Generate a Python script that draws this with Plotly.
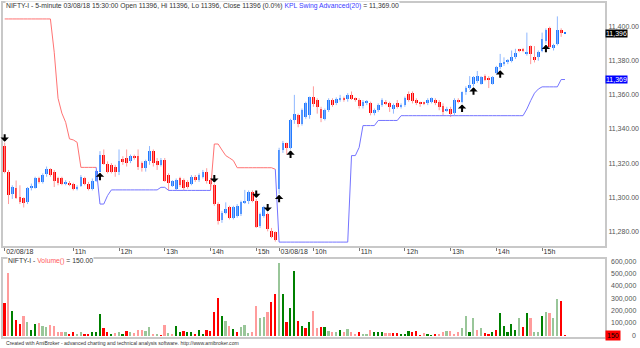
import plotly.graph_objects as go

# ---------------- data ----------------
opens = [11330, 11315, 11302, 11305.6, 11300, 11299.5, 11297, 11305.8, 11305.6, 11311,
         11309, 11313.8, 11316.5, 11315, 11311, 11311, 11308, 11308.5, 11307.8, 11305,
         11306.5, 11311.4, 11308, 11305, 11309.8, 11315, 11325, 11319.6, 11319, 11318,
         11315, 11322.5, 11322.8, 11321.5, 11324, 11324, 11320, 11317, 11321, 11327,
         11321.5, 11319, 11322, 11313.2, 11306.8, 11305, 11311, 11310, 11309, 11307.7,
         11312, 11310, 11312, 11315, 11310, 11307, 11296, 11286.5, 11291, 11294,
         11288, 11289, 11290, 11297, 11297.7, 11303, 11298, 11283.4, 11288.8, 11290,
         11280.5, 11279.6,
         11305, 11327.5, 11331.5, 11329, 11345, 11348, 11343, 11347, 11348, 11358.6,
         11357, 11352, 11346, 11351, 11357, 11355, 11357.3, 11358.4, 11357.3, 11360,
         11357.8, 11357, 11353.7, 11355, 11355, 11349.3, 11351, 11354, 11356, 11355.3,
         11352, 11355, 11353, 11354, 11360.8, 11361, 11357, 11355.5, 11355.5, 11355,
         11356, 11357, 11356, 11353.6, 11351, 11352, 11349.5, 11357, 11356, 11361.6,
         11364, 11366.5, 11368, 11366.5, 11371, 11370, 11366.5, 11373, 11376.4, 11378,
         11379.5, 11380, 11382, 11386.6, 11386.8, 11384, 11388.7, 11382, 11382, 11386,
         11391.5, 11399, 11388, 11390, 11398, 11396]
highs = [11332, 11316, 11307, 11309.8, 11307, 11300, 11306, 11308, 11312, 11312,
         11314, 11318, 11317, 11316, 11312, 11312, 11310, 11309.5, 11308.5, 11307,
         11313, 11312, 11309, 11311, 11316, 11327, 11328, 11321, 11320, 11319,
         11328, 11324, 11328, 11325, 11325, 11328, 11321, 11322, 11330, 11328,
         11323, 11323, 11323, 11314, 11310, 11311, 11312, 11311, 11310, 11313,
         11313, 11314, 11316, 11317, 11311, 11308, 11297, 11292, 11297, 11295,
         11295, 11296, 11298, 11304.3, 11304, 11304, 11299, 11291, 11295, 11291,
         11282, 11280,
         11329, 11333, 11332, 11346, 11360, 11349, 11352, 11356, 11359, 11365,
         11358, 11353, 11352, 11358, 11358, 11358.5, 11360, 11359, 11361, 11362,
         11358.5, 11358, 11357, 11357, 11356, 11352, 11355, 11358, 11357, 11356,
         11355, 11357, 11355, 11359, 11362, 11362, 11358, 11356, 11356, 11358,
         11358.5, 11358, 11357, 11355, 11353, 11353, 11358, 11358, 11362, 11365,
         11371, 11371, 11374, 11371, 11372, 11371, 11371, 11377, 11384, 11382,
         11381, 11386, 11387, 11387, 11387.5, 11396.5, 11389, 11388.6, 11386, 11396.5,
         11399, 11400, 11390, 11406, 11399, 11396]
lows = [11314, 11296, 11299, 11299, 11296, 11294, 11296, 11304, 11305, 11308,
        11308, 11312, 11312, 11306, 11307, 11307, 11307, 11306.5, 11304, 11304,
        11306, 11307, 11304, 11304, 11309, 11315, 11319, 11314, 11314, 11312,
        11313, 11319, 11318, 11320, 11322, 11316, 11315, 11315, 11319, 11318,
        11316, 11318, 11309, 11304, 11306, 11304, 11306, 11304, 11305, 11307,
        11309, 11309, 11311, 11308, 11306, 11295, 11284, 11285, 11290, 11287,
        11287, 11288, 11289, 11296, 11296, 11297, 11282, 11282, 11288, 11280,
        11276, 11274,
        11302, 11326, 11325, 11328, 11343, 11341, 11342, 11346, 11346, 11353,
        11349, 11344, 11345, 11350, 11353, 11354, 11356, 11356, 11356, 11357,
        11356, 11352, 11352, 11354, 11348, 11348, 11350, 11353, 11354, 11350,
        11349, 11352, 11352, 11353, 11356, 11355, 11354, 11353, 11354, 11354,
        11355, 11354, 11351, 11348, 11350, 11347, 11348, 11355, 11355, 11360,
        11363, 11365, 11367, 11366, 11368, 11364, 11366, 11372, 11375, 11377,
        11378, 11379, 11381, 11385, 11385, 11383, 11378, 11379, 11380, 11385,
        11390, 11387, 11386, 11389, 11394, 11396]
closes = [11315, 11301.6, 11306, 11299.8, 11297, 11296.5, 11305.6, 11306.5, 11311.4, 11309,
          11313, 11316.7, 11313, 11309.6, 11308.5, 11308, 11309, 11307.5, 11305, 11306,
          11311.8, 11308, 11305, 11309.8, 11315.2, 11325, 11319.6, 11315, 11315, 11314.5,
          11321.5, 11320.6, 11320, 11324, 11323, 11318, 11317, 11321, 11327, 11320,
          11319, 11322, 11309.8, 11308.2, 11309.7, 11310, 11307, 11305.5, 11306, 11312,
          11310, 11313, 11315, 11309.5, 11307.5, 11296, 11286, 11291, 11293, 11288,
          11294, 11295, 11297, 11297.8, 11302.9, 11298, 11282.7, 11290.3, 11294, 11281.5,
          11276.5, 11274.7,
          11327.5, 11332, 11329, 11345, 11349, 11343, 11351, 11355, 11358.5, 11354.7,
          11352.6, 11346.3, 11351, 11357, 11354, 11357.7, 11358.4, 11357.3, 11360, 11357.8,
          11357, 11353.7, 11356, 11356.5, 11349.3, 11351, 11354, 11357, 11354.5, 11352.6,
          11354, 11353, 11354, 11358.3, 11357, 11356.5, 11355, 11355, 11355, 11357,
          11358, 11355, 11353, 11349.8, 11352, 11349, 11357, 11356, 11361.5, 11364,
          11366, 11370.6, 11371, 11370.6, 11369, 11368.5, 11370.5, 11376.4, 11378.4, 11379.5,
          11380, 11382, 11384.8, 11386, 11386.2, 11385.3, 11384, 11381, 11385, 11392.6,
          11398, 11388, 11389, 11398, 11396, 11396]

# volume (shares) and bar tone: R red, r light red, G green, g light green
volumes = [263000, 508000, 204000, 131000, 96000, 164000, 115000, 50000, 96000, 104000,
           82000, 69000, 88000, 77000, 29000, 29000, 29000, 13000, 34000, 15000,
           29000, 10000, 18000, 34000, 34000, 177000, 61000, 34000, 15000, 23000,
           29000, 18000, 42000, 34000, 23000, 50000, 50000, 42000, 69000, 15000,
           10000, 3000, 91000, 23000, 18000, 82000, 34000, 42000, 29000, 34000,
           18000, 45000, 15000, 50000, 42000, 190000, 306000, 164000, 118000, 77000,
           56000, 34000, 69000, 88000, 23000, 34000, 245000, 142000, 150000, 196000,
           277000, 339000,
           589000, 339000, 115000, 223000, 527000, 123000, 77000, 61000, 115000, 204000,
           61000, 74000, 69000, 42000, 34000, 29000, 50000, 34000, 56000, 29000,
           15000, 34000, 15000, 18000, 50000, 34000, 34000, 34000, 23000, 23000,
           23000, 23000, 15000, 13000, 42000, 29000, 40000, 4000, 23000, 7000,
           4000, 7000, 15000, 29000, 42000, 42000, 15000, 34000, 61000, 164000,
           34000, 148000, 50000, 61000, 23000, 18000, 29000, 50000, 185000, 82000,
           34000, 96000, 45000, 142000, 69000, 185000, 142000, 34000, 34000, 164000,
           196000, 185000, 142000, 299000, 285000, 150]
vol_tone = ("RrGRRrgGGr ggrrrrgRRg gRRGGGRRGr gGRgrrrggr gRrgrGGRGG RGGRRRRGgr GRgggrrggr RR"
            "gGRGGRGRGr rRGgrgGrgr rRggrGGGrr RRGGGRRRrG GRrrgrrrgg GgrgRRGRGG GGGgRGrggG grggRR"
            ).replace(" ", "")

# KPL Swing Advanced(20): stop level and mode per bar (S = sell/red, B = buy/blue)
swing = ([11404.5] * 13 + [11385, 11358, 11349.3, 11343.9, 11334.2, 11333.6, 11332.2]
         + [11317.5] * 5 + [11296, 11296, 11301] + [11304.3] * 13 + [11305.8] * 2
         + [11304] * 12 + [11331.2] * 2 + [11327.7, 11324.4, 11323, 11321.5]
         + [11317.3] * 10 + [11316.4] + [11273.7] * 19 + [11324.4] * 2 + [11329.2]
         + [11342] * 4 + [11345] * 6 + [11347.8] * 33
         + [11351.7, 11356.6, 11361, 11363.4] + [11364.7] * 5 + [11369] * 2)
swing_mode = "S" * 25 + "B" * 30 + "S" * 17 + "B" * 76

buy_bars = [25, 72, 75, 120, 123, 130, 142]
sell_bars = [0, 55, 66, 69]

tick_bars = [0, 18, 30, 42, 54, 66, 72, 81, 93, 105, 117, 129, 141]
tick_labels = ["02/08/18", "11h", "12h", "13h", "14h", "15h",
               "03/08/18", "10h", "11h", "12h", "13h", "14h", "15h"]
price_ticks = [11280, 11300, 11320, 11340, 11360, 11380, 11400]
vol_ticks = [0, 100000, 200000, 300000, 400000, 500000, 600000]

# ---------------- styling ----------------
FONT = "Liberation Sans, Arial, sans-serif"
UP_BODY, DN_BODY = "#1e78ff", "#ff0000"
UP_WICK, DN_WICK = "#8fb8ff", "#ff9a9a"
TONES = {"R": "#ff0000", "r": "#ff9c9c", "G": "#008000", "g": "#99c699"}
FRAME = "#c8c8c8"
TXT = "#333333"
AX_TXT = "#555555"

n = len(closes)
idx = list(range(n))
up = [c >= o for o, c in zip(opens, closes)]

fig = go.Figure()

# wicks
for flag, col in ((True, UP_WICK), (False, DN_WICK)):
    xs, ys = [], []
    for i in idx:
        if up[i] == flag:
            xs += [i, i, None]
            ys += [lows[i], highs[i], None]
    fig.add_trace(go.Scatter(x=xs, y=ys, mode="lines", line=dict(color=col, width=1),
                             hoverinfo="skip", showlegend=False, xaxis="x", yaxis="y"))

# bodies
base = [min(o, c) for o, c in zip(opens, closes)]
height = [max(abs(c - o), 0.6) for o, c in zip(opens, closes)]
fig.add_trace(go.Bar(x=idx, y=height, base=base, width=0.72,
                     marker=dict(color=[UP_BODY if u else DN_BODY for u in up], line=dict(width=0)),
                     showlegend=False, xaxis="x", yaxis="y"))

# swing line
for mode_char, col in (("S", "#ff7373"), ("B", "#7474ff")):
    xs, ys = [], []
    for i in range(1, n):
        if swing_mode[i] == mode_char:
            xs += [i - 1, i, None]
            ys += [swing[i - 1], swing[i], None]
    fig.add_trace(go.Scatter(x=xs, y=ys, mode="lines", line=dict(color=col, width=1),
                             hoverinfo="skip", showlegend=False, xaxis="x", yaxis="y"))

# volume
fig.add_trace(go.Bar(x=idx, y=volumes, width=0.45,
                     marker=dict(color=[TONES[t] for t in vol_tone], line=dict(width=0)),
                     showlegend=False, xaxis="x2", yaxis="y2"))

annotations = []
for b in buy_bars:
    annotations.append(dict(x=b, y=lows[b], xref="x", yref="y", text="", showarrow=True,
                            ax=0, ay=10, arrowhead=1, arrowsize=0.7, arrowwidth=2,
                            arrowcolor="black", standoff=1))
for b in sell_bars:
    annotations.append(dict(x=b, y=highs[b], xref="x", yref="y", text="", showarrow=True,
                            ax=0, ay=-10, arrowhead=1, arrowsize=0.7, arrowwidth=2,
                            arrowcolor="black", standoff=1))

title_txt = ("NIFTY-I - 5-minute 03/08/18 15:30:00 Open %d, Hi %d, Lo %d, Close %d (0.0%%) "
             "<span style='color:#3c3cff'>KPL Swing Advanced(20)</span> = %s"
             % (opens[-1], highs[-1], lows[-1], closes[-1], f"{swing[-1]:,.2f}"))
annotations.append(dict(x=0, y=1, xref="paper", yref="paper", xanchor="left", yanchor="middle",
                        xshift=2, yshift=-3, text=title_txt, showarrow=False, bgcolor="white",
                        borderpad=0, font=dict(family=FONT, size=6.8, color=TXT)))
annotations.append(dict(x=0, y=0.235, xref="paper", yref="paper", xanchor="left", yanchor="middle",
                        xshift=4, yshift=-2,
                        text="NIFTY-I - <span style='color:#ff5a5a'>Volume()</span> = %.2f" % volumes[-1],
                        showarrow=False, bgcolor="white", borderpad=0,
                        font=dict(family=FONT, size=6.8, color=TXT)))
annotations.append(dict(x=0, y=0, xref="paper", yref="paper", xanchor="left", yanchor="middle",
                        xshift=1, yshift=-6,
                        text="Created with AmiBroker - advanced charting and technical analysis software. http://www.amibroker.com",
                        showarrow=False, font=dict(family=FONT, size=5.1, color=TXT)))
# volume axis labels, right aligned like the reference
for v in vol_ticks:
    annotations.append(dict(x=1, y=v, xref="paper", yref="y2", xanchor="right", yanchor="middle",
                            xshift=33, text=f"{v:,}", showarrow=False,
                            font=dict(family=FONT, size=7, color=AX_TXT)))
# value labels on the right
annotations.append(dict(x=1, y=closes[-1], xref="paper", yref="y", xanchor="left", yanchor="middle",
                        text=f"{closes[-1]:,.0f}", showarrow=False, bgcolor="black", borderpad=0,
                        font=dict(family=FONT, size=7, color="white")))
annotations.append(dict(x=1, y=swing[-1], xref="paper", yref="y", xanchor="left", yanchor="middle",
                        text=f"{swing[-1]:,.0f}", showarrow=False, bgcolor="#0000ff", borderpad=0,
                        font=dict(family=FONT, size=7, color="white")))
annotations.append(dict(x=1, y=volumes[-1], xref="paper", yref="y2", xanchor="left", yanchor="middle",
                        text=f"{volumes[-1]}", showarrow=False, bgcolor="#ff0000", borderpad=1,
                        font=dict(family=FONT, size=7, color="black")))

axis_common = dict(showgrid=False, zeroline=False, showline=True, mirror=True,
                   linecolor=FRAME, linewidth=2)
xr = [-0.44, 157.5]
fig.update_layout(
    width=640, height=348, autosize=False,
    margin=dict(l=1, r=34, t=2, b=11),
    paper_bgcolor="white", plot_bgcolor="white",
    barmode="overlay", bargap=0, showlegend=False,
    font=dict(family=FONT, size=7, color=TXT),
    xaxis=dict(domain=[0, 1], range=xr, anchor="y", tickmode="array",
               tickvals=tick_bars, ticktext=tick_labels, ticks="outside", ticklen=3,
               tickcolor="#777777", ticklabelposition="outside right", tickangle=0,
               ticklabelstandoff=-2,
               tickfont=dict(family=FONT, size=7, color=TXT), **axis_common),
    yaxis=dict(domain=[0.2731, 1], range=[11271.54, 11413.85], side="right", anchor="x",
               tickmode="array", tickvals=price_ticks,
               ticktext=[f"{v:,.2f}" for v in price_ticks], ticks="",
               tickfont=dict(family=FONT, size=7, color=AX_TXT), **axis_common),
    xaxis2=dict(domain=[0, 1], range=xr, anchor="y2", matches="x", showticklabels=False,
                ticks="", **axis_common),
    yaxis2=dict(domain=[0, 0.235], range=[-13700, 621800], side="right", anchor="x2",
                tickmode="array", tickvals=vol_ticks, showticklabels=False,
                ticks="", **axis_common),
    annotations=annotations,
)

fig.write_html("out.html")
